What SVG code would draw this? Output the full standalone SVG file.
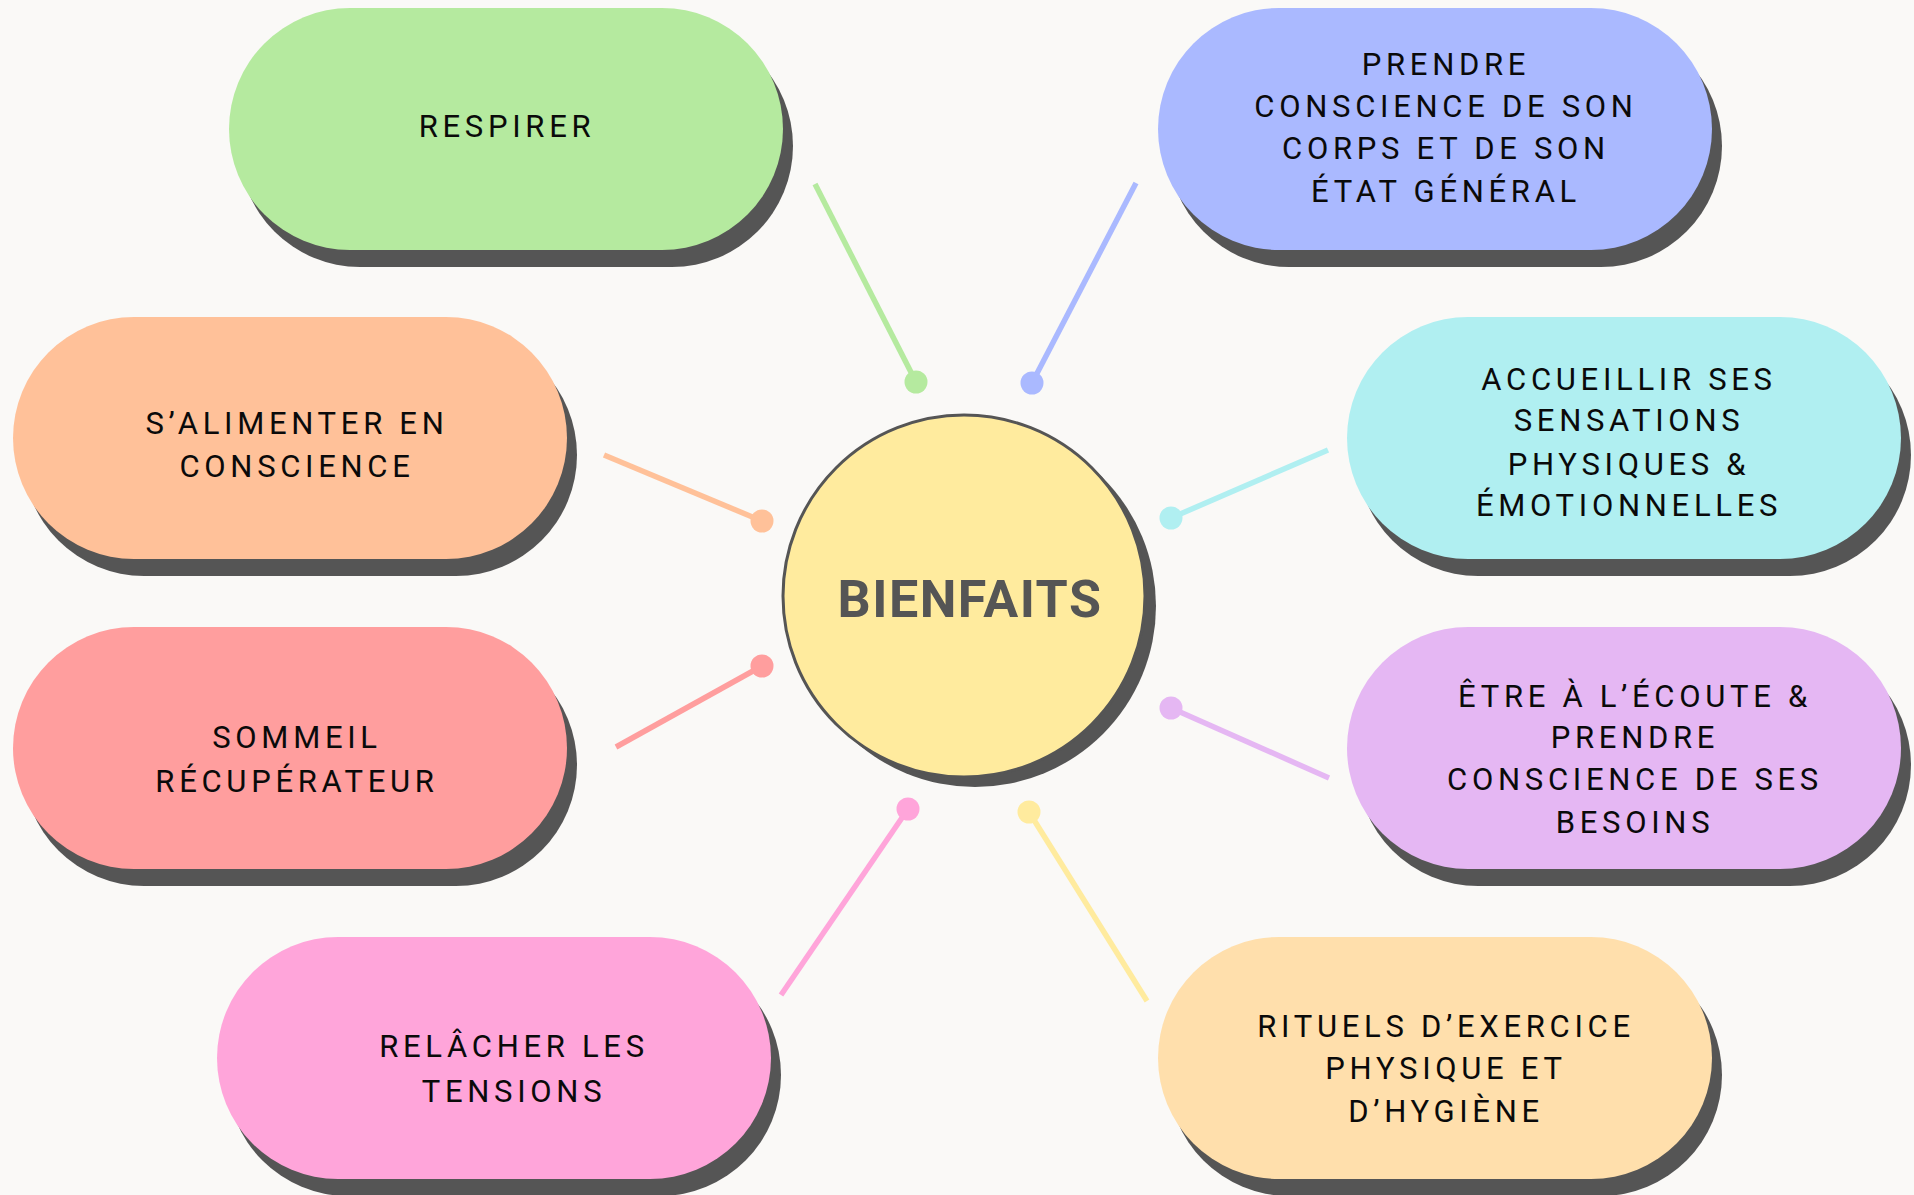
<svg xmlns="http://www.w3.org/2000/svg" width="1914" height="1195" viewBox="0 0 1914 1195">
  <style>
    .shadow { fill: #555555; }
    .label { font-family: Roboto, "Liberation Sans", sans-serif; font-size: 31px; letter-spacing: 4.7px; fill: #0A0A0A; text-anchor: middle; }
    .hub { font-family: Roboto, "Liberation Sans", sans-serif; font-weight: 700; font-size: 52px; letter-spacing: 1.5px; fill: #555555; text-anchor: middle; }
    .link { stroke-width: 5.5; fill: none; }
  </style>
  <rect width="1914" height="1195" fill="#FAF9F7"/>

  <!-- spokes from the hub to each benefit -->
  <g id="connectors">
    <line class="link" x1="815" y1="184" x2="916" y2="382" stroke="#B5EA9F"/>
    <circle cx="916" cy="382" r="11.5" fill="#B5EA9F"/>
    <line class="link" x1="1136" y1="183" x2="1032" y2="383" stroke="#AAB9FF"/>
    <circle cx="1032" cy="383" r="11.5" fill="#AAB9FF"/>
    <line class="link" x1="604" y1="455" x2="762" y2="521" stroke="#FFC199"/>
    <circle cx="762" cy="521" r="11.5" fill="#FFC199"/>
    <line class="link" x1="616" y1="747" x2="762" y2="666" stroke="#FF9E9E"/>
    <circle cx="762" cy="666" r="11.5" fill="#FF9E9E"/>
    <line class="link" x1="1328" y1="450" x2="1171" y2="518" stroke="#B0EFF1"/>
    <circle cx="1171" cy="518" r="11.5" fill="#B0EFF1"/>
    <line class="link" x1="1329" y1="778" x2="1171" y2="708" stroke="#E5B7F3"/>
    <circle cx="1171" cy="708" r="11.5" fill="#E5B7F3"/>
    <line class="link" x1="781" y1="995" x2="908" y2="809" stroke="#FFA5DA"/>
    <circle cx="908" cy="809" r="11.5" fill="#FFA5DA"/>
    <line class="link" x1="1147" y1="1001" x2="1029" y2="812" stroke="#FFEB9E"/>
    <circle cx="1029" cy="812" r="11.5" fill="#FFEB9E"/>
  </g>

  <!-- central hub -->
  <g id="hub">
    <circle class="shadow" cx="975" cy="606" r="181"/>
    <circle cx="964" cy="596" r="181" fill="#FFEB9E" stroke="#555555" stroke-width="3"/>
    <text class="hub" x="970" y="617">BIENFAITS</text>
  </g>

  <g id="respirer">
    <rect class="shadow" x="239" y="25" width="554" height="242" rx="121"/>
    <rect x="229" y="8" width="554" height="242" rx="121" fill="#B5EA9F"/>
    <text class="label" x="507" y="137">RESPIRER</text>
  </g>

  <g id="conscience-corps">
    <rect class="shadow" x="1168" y="25" width="554" height="242" rx="121"/>
    <rect x="1158" y="8" width="554" height="242" rx="121" fill="#AAB9FF"/>
    <text class="label" x="1446" y="75">PRENDRE</text>
    <text class="label" x="1446" y="117">CONSCIENCE DE SON</text>
    <text class="label" x="1446" y="159">CORPS ET DE SON</text>
    <text class="label" x="1446" y="202">ÉTAT GÉNÉRAL</text>
  </g>

  <g id="alimenter">
    <rect class="shadow" x="23" y="334" width="554" height="242" rx="121"/>
    <rect x="13" y="317" width="554" height="242" rx="121" fill="#FFC199"/>
    <text class="label" x="297" y="434">S’ALIMENTER EN</text>
    <text class="label" x="297" y="477">CONSCIENCE</text>
  </g>

  <g id="sensations">
    <rect class="shadow" x="1357" y="334" width="554" height="242" rx="121"/>
    <rect x="1347" y="317" width="554" height="242" rx="121" fill="#B0EFF1"/>
    <text class="label" x="1629" y="390">ACCUEILLIR SES</text>
    <text class="label" x="1629" y="431">SENSATIONS</text>
    <text class="label" x="1629" y="475">PHYSIQUES &amp;</text>
    <text class="label" x="1629" y="516">ÉMOTIONNELLES</text>
  </g>

  <g id="sommeil">
    <rect class="shadow" x="23" y="644" width="554" height="242" rx="121"/>
    <rect x="13" y="627" width="554" height="242" rx="121" fill="#FF9E9E"/>
    <text class="label" x="297" y="748">SOMMEIL</text>
    <text class="label" x="297" y="792">RÉCUPÉRATEUR</text>
  </g>

  <g id="besoins">
    <rect class="shadow" x="1357" y="644" width="554" height="242" rx="121"/>
    <rect x="1347" y="627" width="554" height="242" rx="121" fill="#E5B7F3"/>
    <text class="label" x="1635" y="707">ÊTRE À L’ÉCOUTE &amp;</text>
    <text class="label" x="1635" y="748">PRENDRE</text>
    <text class="label" x="1635" y="790">CONSCIENCE DE SES</text>
    <text class="label" x="1635" y="833">BESOINS</text>
  </g>

  <g id="tensions">
    <rect class="shadow" x="227" y="954" width="554" height="242" rx="121"/>
    <rect x="217" y="937" width="554" height="242" rx="121" fill="#FFA5DA"/>
    <text class="label" x="514" y="1057">RELÂCHER LES</text>
    <text class="label" x="514" y="1102">TENSIONS</text>
  </g>

  <g id="rituels">
    <rect class="shadow" x="1168" y="954" width="554" height="242" rx="121"/>
    <rect x="1158" y="937" width="554" height="242" rx="121" fill="#FFDFAC"/>
    <text class="label" x="1446" y="1037">RITUELS D’EXERCICE</text>
    <text class="label" x="1446" y="1079">PHYSIQUE ET</text>
    <text class="label" x="1446" y="1122">D’HYGIÈNE</text>
  </g>
</svg>
